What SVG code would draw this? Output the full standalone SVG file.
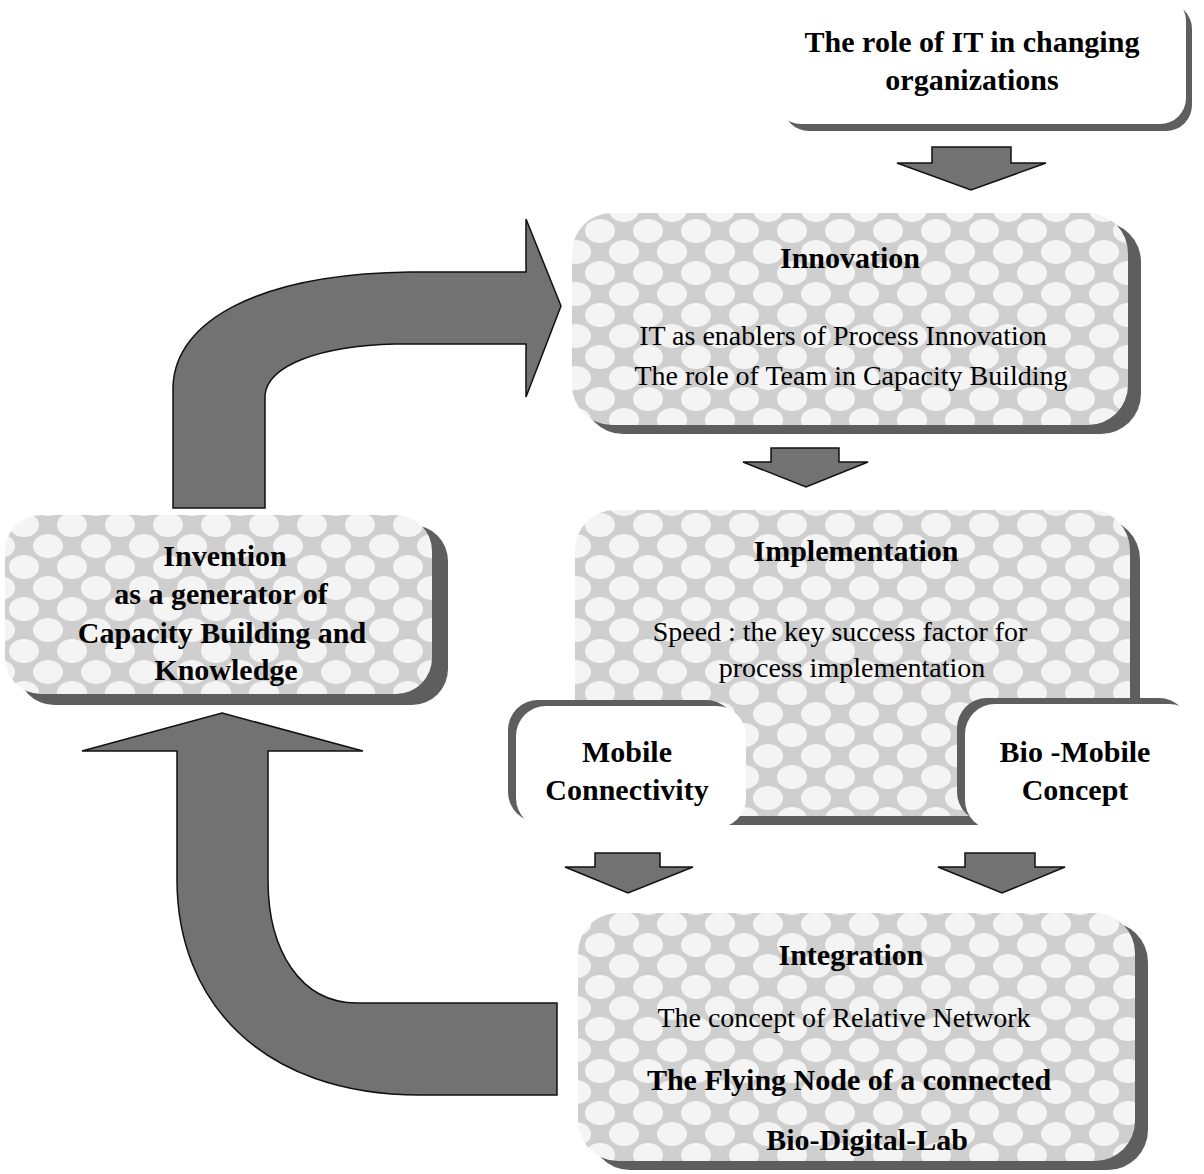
<svg xmlns="http://www.w3.org/2000/svg" width="1204" height="1174" viewBox="0 0 1204 1174">
<style>
  .t { font-family: "Liberation Serif", "Times New Roman", serif; fill: #000; text-anchor: middle; }
  .b { font-weight: bold; font-size: 30px; }
  .r { font-size: 28px; }
  .shadow { fill: #5e5e5e; }
  .tex { fill: url(#tex); }
  .white { fill: #fff; }
  .arrow { fill: #727272; stroke: #111; stroke-width: 1.5; stroke-linejoin: miter; }
</style>
<defs>
  <pattern id="tex" patternUnits="userSpaceOnUse" width="48" height="42">
    <rect width="48" height="42" fill="#cfcfcf"/>
    <ellipse cx="0" cy="0" rx="15" ry="12" fill="#f4f4f4"/>
    <ellipse cx="48" cy="0" rx="15" ry="12" fill="#f4f4f4"/>
    <ellipse cx="0" cy="42" rx="15" ry="12" fill="#f4f4f4"/>
    <ellipse cx="48" cy="42" rx="15" ry="12" fill="#f4f4f4"/>
    <ellipse cx="24" cy="21" rx="15" ry="12" fill="#f4f4f4"/>
  </pattern>
</defs>
<rect width="1204" height="1174" fill="#fff"/>

<g id="connectors">
  <path class="arrow" d="M173,508 L173,387 C175,320 260,274 410,272 L526,272 L526,219 L561,306 L526,397 L526,344 L395,344 C320,346 268,365 265,395 L265,508 Z"/>
  <path class="arrow" d="M222,713 L363,751 L268,751 L268,880 C268,950 300,1003 357,1003 L557,1003 L557,1095 L420,1095 C260,1095 177,1000 177,880 L177,751 L82,751 Z"/>
  <path class="arrow" d="M932,147 L1011,147 L1011,163 L1046,163 L971,190 L897,163 L932,163 Z"/>
  <path class="arrow" d="M771,448 L839,448 L839,462 L868,462 L806,487 L743,462 L771,462 Z"/>
  <path class="arrow" d="M595,853 L660,853 L660,867 L693,867 L628,893 L565,867 L595,867 Z"/>
  <path class="arrow" d="M965,853 L1035,853 L1035,867 L1065,867 L1002,893 L938,867 L965,867 Z"/>
</g>

<g id="role-of-it">
  <rect class="shadow" x="783" y="3" width="409" height="128" rx="26"/>
  <rect class="white" x="775" y="-5" width="411" height="129" rx="26"/>
  <text class="t b" x="972" y="52">The role of IT in changing</text>
  <text class="t b" x="972" y="90">organizations</text>
</g>

<g id="innovation">
  <rect class="shadow" x="583" y="222" width="558" height="212" rx="40"/>
  <rect class="tex" x="572" y="213" width="556" height="212" rx="40"/>
  <text class="t b" x="850" y="268">Innovation</text>
  <text class="t r" x="843" y="345">IT as enablers of Process Innovation</text>
  <text class="t r" x="851" y="385">The role of Team in Capacity Building</text>
</g>

<g id="implementation">
  <rect class="shadow" x="585" y="519" width="555" height="306" rx="40"/>
  <rect class="tex" x="575" y="510" width="555" height="306" rx="40"/>
  <text class="t b" x="856" y="561">Implementation</text>
  <text class="t r" x="840" y="641">Speed : the key success factor for</text>
  <text class="t r" x="852" y="677">process implementation</text>
</g>

<g id="mobile-connectivity">
  <rect class="shadow" x="508" y="700" width="228" height="122" rx="30"/>
  <rect class="white" x="516" y="706" width="230" height="122" rx="30"/>
  <text class="t b" x="627" y="762">Mobile</text>
  <text class="t b" x="627" y="800">Connectivity</text>
</g>

<g id="bio-mobile">
  <rect class="shadow" x="957" y="698" width="232" height="124" rx="30"/>
  <rect class="white" x="965" y="704" width="234" height="126" rx="30"/>
  <text class="t b" x="1075" y="762">Bio -Mobile</text>
  <text class="t b" x="1075" y="800">Concept</text>
</g>

<g id="integration">
  <rect class="shadow" x="590" y="922" width="558" height="248" rx="40"/>
  <rect class="tex" x="578" y="913" width="557" height="248" rx="40"/>
  <text class="t b" x="851" y="965">Integration</text>
  <text class="t r" x="844" y="1027">The concept of Relative Network</text>
  <text class="t b" x="849" y="1090">The Flying Node of a connected</text>
  <text class="t b" x="867" y="1150">Bio-Digital-Lab</text>
</g>

<g id="invention">
  <rect class="shadow" x="18" y="525" width="430" height="180" rx="36"/>
  <rect class="tex" x="5" y="515" width="427" height="179" rx="36"/>
  <text class="t b" x="225" y="566">Invention</text>
  <text class="t b" x="221" y="604">as a generator of</text>
  <text class="t b" x="222" y="643">Capacity Building and</text>
  <text class="t b" x="226" y="680">Knowledge</text>
</g>
</svg>
